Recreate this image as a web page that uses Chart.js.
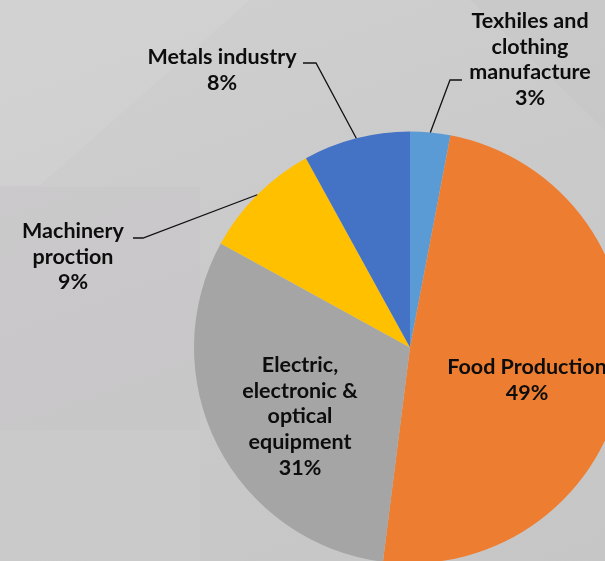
<!DOCTYPE html>
<html>
<head>
<meta charset="utf-8">
<script src="https://cdn.jsdelivr.net/npm/chart.js@4/dist/chart.umd.min.js"></script>
<style>
  html, body { margin: 0; padding: 0; overflow: hidden; width: 605px; height: 561px; }
  body {
    background: linear-gradient(160deg, #d1d0d1 0%, #cbcacb 45%, #c7c6c7 100%);
    position: relative;
  }
  #bgdeco { position: absolute; left: 0; top: 0; }
  #c { position: absolute; left: 0; top: 0; }
</style>
</head>
<body>
<svg id="bgdeco" width="605" height="561">
  <polygon points="0,0 250,0 40,185 0,185" fill="#d5d4d5" opacity="0.45"/>
  <polygon points="0,187 200,187 200,430 0,430" fill="#c5c4c5" opacity="0.35"/>
  <polygon points="0,430 200,430 200,561 0,561" fill="#cecdce" opacity="0.4"/>
  <polygon points="470,0 605,0 605,130" fill="#c4c3c4" opacity="0.35"/>
</svg>
<canvas id="c" width="820" height="695"></canvas>
<script>
const categories = ["Texhiles and clothing manufacture", "Food Production", "Electric, electronic & optical equipment", "Machinery proction", "Metals industry"];
const values = [3, 49, 31, 9, 8];
const labelLines = [
  ["Texhiles and", "clothing", "manufacture"],
  ["Food Production"],
  ["Electric,", "electronic &", "optical", "equipment"],
  ["Machinery", "proction"],
  ["Metals industry"]
];
const colors = ["#5B9BD5", "#ED7D31", "#A5A5A5", "#FFC000", "#4472C4"];

// label layout (styling only): text block center x, first line y, optional leader elbow & end
const labelLayout = [
  { cx: 530, y: 21, elbow: [450, 80], end: [462, 80] },
  { cx: 527, y: 367 },
  { cx: 300, y: 365 },
  { cx: 73, y: 231, elbow: [143, 238], end: [133, 238] },
  { cx: 222, y: 57, elbow: [316, 63], end: [303, 63] }
];
const lineHeight = 25.7;
const fontSpec = "bold 21.5px Lato, 'DejaVu Sans', sans-serif";

const labelPlugin = {
  id: 'pieLabels',
  afterDatasetsDraw(chart) {
    const ctx = chart.ctx;
    const meta = chart.getDatasetMeta(0);
    const total = values.reduce((a, b) => a + b, 0);
    ctx.save();
    meta.data.forEach((arc, i) => {
      const p = arc.getProps(['x', 'y', 'startAngle', 'endAngle', 'outerRadius'], true);
      const mid = (p.startAngle + p.endAngle) / 2;
      const L = labelLayout[i];
      if (L.elbow) {
        const sx = p.x + Math.cos(mid) * p.outerRadius;
        const sy = p.y + Math.sin(mid) * p.outerRadius;
        ctx.beginPath();
        ctx.strokeStyle = '#111';
        ctx.lineWidth = 1.3;
        ctx.moveTo(sx, sy);
        ctx.lineTo(L.elbow[0], L.elbow[1]);
        ctx.lineTo(L.end[0], L.end[1]);
        ctx.stroke();
      }
      const lines = labelLines[i].concat([Math.round(values[i] / total * 100) + '%']);
      ctx.font = fontSpec;
      ctx.fillStyle = '#0d0d0d';
      ctx.textAlign = 'center';
      ctx.textBaseline = 'middle';
      lines.forEach((t, k) => ctx.fillText(t, L.cx, L.y + k * lineHeight));
    });
    ctx.restore();
  }
};

new Chart(document.getElementById('c'), {
  type: 'pie',
  data: {
    labels: categories,
    datasets: [{ data: values, backgroundColor: colors, borderWidth: 0 }]
  },
  options: {
    responsive: false,
    animation: false,
    layout: { padding: { left: 194, right: 194, top: 131.5, bottom: 131.5 } },
    plugins: { legend: { display: false }, tooltip: { enabled: false } }
  },
  plugins: [labelPlugin]
});
</script>
</body>
</html>
